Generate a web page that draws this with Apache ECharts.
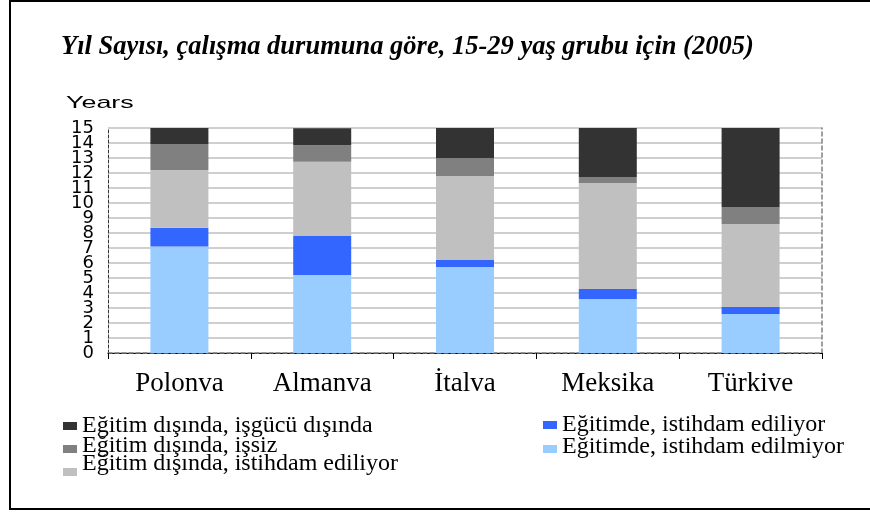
<!DOCTYPE html>
<html>
<head>
<meta charset="utf-8">
<script src="https://cdn.jsdelivr.net/npm/echarts@6/dist/echarts.min.js"></script>
<style>
  html, body { margin: 0; padding: 0; background: #fff; }
  #chart { width: 870px; height: 512px; }
</style>
</head>
<body>
<div id="chart"></div>
<script>
// data (years, stacked bottom -> top)
var countries = ['Polonva', 'Almanva', 'İtalva', 'Meksika', 'Türkive'];
var yTicks = [0, 1, 2, 3, 4, 5, 6, 7, 8, 9, 10, 11, 12, 13, 14, 15];

var egitimdeCalismiyor = [7.1, 5.2, 5.73, 3.6, 2.6];
var egitimdeCalisiyor = [1.25, 2.6, 0.47, 0.67, 0.47];
var disindaCalisiyor = [3.85, 4.95, 5.6, 7.07, 5.53];
var disindaIssiz = [1.73, 1.1, 1.2, 0.4, 1.13];
var disindaIsgucuDisi = [1.07, 1.13, 2.0, 3.27, 5.27];

var names = {
  a: 'Eğitimde, istihdam edilmiyor',
  b: 'Eğitimde, istihdam ediliyor',
  c: 'Eğitim dışında, istihdam ediliyor',
  d: 'Eğitim dışında, işsiz',
  e: 'Eğitim dışında, işgücü dışında'
};

var serif = '"Liberation Serif", "DejaVu Serif", serif';
var sans = '"DejaVu Sans", "Liberation Sans", sans-serif';

var chart = echarts.init(document.getElementById('chart'));

function bar(name, data, color) {
  return {
    name: name,
    type: 'bar',
    stack: 'yil',
    barWidth: 58,
    data: data,
    itemStyle: { color: color },
    emphasis: { disabled: true }
  };
}

// one legend box per entry so each can sit where the original has it
// shift = bottom padding on the words, lifts them above the square
function legendAt(name, left, top, shift) {
  return {
    data: [name],
    left: left,
    top: top,
    itemWidth: 14,
    itemHeight: 8,
    itemGap: 0,
    padding: 0,
    selectedMode: false,
    icon: 'rect',
    formatter: '{t|{name}}',
    textStyle: {
      color: '#000',
      rich: {
        t: {
          fontFamily: serif,
          fontSize: 24,
          color: '#000',
          lineHeight: 24,
          padding: [0, 0, shift, 0]
        }
      }
    }
  };
}

var yLabel = { fontFamily: sans, fontSize: 18, color: '#000', margin: 14 };

chart.setOption({
  animation: false,
  backgroundColor: '#fff',
  title: {
    text: 'Yıl Sayısı, çalışma durumuna göre, 15-29 yaş grubu için (2005)',
    left: 61,
    top: 34,
    padding: 0,
    textStyle: {
      fontFamily: serif,
      fontSize: 26.5,
      fontWeight: 'bold',
      fontStyle: 'italic',
      color: '#000'
    }
  },
  graphic: [
    {
      type: 'rect',
      shape: { x: 10, y: 1, width: 880, height: 508 },
      style: { fill: 'none', stroke: '#000', lineWidth: 2 },
      silent: true
    },
    {
      type: 'text',
      x: 66,
      y: 95,
      scaleX: 1.58,
      style: { text: 'Years', font: '17px "Liberation Sans", Arial, sans-serif', fill: '#000' }
    }
  ],
  legend: [
    legendAt(names.e, 63, 414, 0),
    legendAt(names.d, 63, 434, 6),
    legendAt(names.c, 63, 452, 16),
    legendAt(names.b, 543, 413, 0),
    legendAt(names.a, 543, 435, 4)
  ],
  grid: { left: 108, top: 128, right: 48, bottom: 159 },
  xAxis: [
    {
      type: 'category',
      data: countries,
      axisLine: { lineStyle: { color: '#000', width: 1 } },
      axisTick: { show: true, inside: false, length: 6, lineStyle: { color: '#000' } },
      axisLabel: { fontFamily: serif, fontSize: 27, color: '#000', margin: 17 },
      splitLine: { show: false }
    },
    {
      type: 'category',
      position: 'top',
      data: countries,
      axisLine: { lineStyle: { color: '#808080', type: [4, 3], width: 1.5 } },
      axisTick: { show: false },
      axisLabel: { show: false }
    }
  ],
  yAxis: [
    {
      type: 'value',
      min: yTicks[0],
      max: yTicks[yTicks.length - 1],
      interval: 1,
      axisLine: { show: true, lineStyle: { color: '#333', type: [3, 2], width: 1 } },
      axisTick: { show: false },
      axisLabel: Object.assign({ hideOverlap: false, showMinLabel: true, showMaxLabel: true }, yLabel),
      splitLine: { show: true, lineStyle: { color: '#bfbfbf', width: 1.5 } }
    },
    {
      type: 'value',
      position: 'right',
      min: yTicks[0],
      max: yTicks[yTicks.length - 1],
      interval: 1,
      axisLine: { show: true, lineStyle: { color: '#808080', type: [4, 3], width: 1.5 } },
      axisTick: { show: false },
      axisLabel: { show: false },
      splitLine: { show: false }
    },
    {
      // echarts drops the labels next to min/max (packed too tight): this one puts them back
      type: 'value',
      position: 'left',
      min: yTicks[0],
      max: yTicks[yTicks.length - 1],
      interval: 1,
      axisLine: { show: false },
      axisTick: { show: false },
      splitLine: { show: false },
      axisLabel: Object.assign({
        hideOverlap: false,
        showMinLabel: false,
        showMaxLabel: false,
        formatter: function (v) {
          return (v === yTicks[1] || v === yTicks[yTicks.length - 2]) ? String(v) : '';
        }
      }, yLabel)
    }
  ],
  series: [
    bar(names.a, egitimdeCalismiyor, '#99ccff'),
    bar(names.b, egitimdeCalisiyor, '#3366ff'),
    bar(names.c, disindaCalisiyor, '#c0c0c0'),
    bar(names.d, disindaIssiz, '#808080'),
    bar(names.e, disindaIsgucuDisi, '#333333')
  ]
});
</script>
</body>
</html>
